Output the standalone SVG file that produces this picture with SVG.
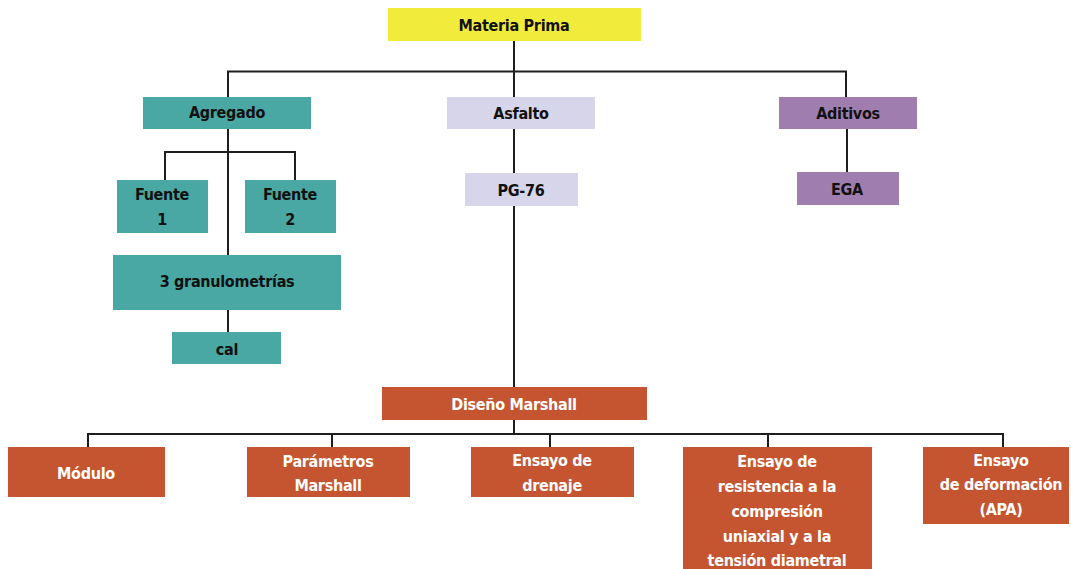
<svg xmlns="http://www.w3.org/2000/svg" width="1071" height="569" viewBox="0 0 1071 569">
<style>
text{font-family:"Liberation Sans Narrow","DejaVu Sans Condensed","Liberation Sans",sans-serif;font-weight:bold;font-size:16px;letter-spacing:-0.3px;text-anchor:middle}
.dk{fill:#111}
.lt{fill:#ffffff}
.yel{fill:#f1ec3b}
.teal{fill:#4aa8a4}
.lav{fill:#d7d5e9}
.pur{fill:#a07daf}
.org{fill:#c45530}
.conn{fill:none;stroke:#1e1e1e;stroke-width:2}
</style>
<rect width="1071" height="569" fill="#ffffff"/>
<g id="connectors" class="conn">
<path d="M514,41 V97"/>
<path d="M228,97 V71.5 H846 V97"/>
<path d="M228,129 V255"/>
<path d="M228,310 V332"/>
<path d="M165,180 V152 H295 V180"/>
<path d="M514,129 V173"/>
<path d="M514,206 V387"/>
<path d="M847,129 V172"/>
<path d="M514,420 V434"/>
<path d="M88,447 V434 H1003 V447"/>
<path d="M332,434 V447"/>
<path d="M550,434 V447"/>
<path d="M768,434 V447"/>
</g>
<g id="materia-prima"><rect class="yel" x="388" y="8" width="253" height="33"/><text class="dk" x="514" y="31">Materia Prima</text></g>
<g id="agregado"><rect class="teal" x="143" y="97" width="168" height="32"/><text class="dk" x="227" y="118">Agregado</text></g>
<g id="asfalto"><rect class="lav" x="447" y="97" width="148" height="32"/><text class="dk" x="521" y="119">Asfalto</text></g>
<g id="aditivos"><rect class="pur" x="779" y="97" width="138" height="32"/><text class="dk" x="848" y="119">Aditivos</text></g>
<g id="fuente1"><rect class="teal" x="117" y="180" width="91" height="53"/><text class="dk" x="162" y="200">Fuente</text><text class="dk" x="162" y="225">1</text></g>
<g id="fuente2"><rect class="teal" x="245" y="180" width="91" height="53"/><text class="dk" x="290" y="200">Fuente</text><text class="dk" x="290" y="225">2</text></g>
<g id="pg76"><rect class="lav" x="465" y="173" width="113" height="33"/><text class="dk" x="521" y="196">PG-76</text></g>
<g id="ega"><rect class="pur" x="797" y="172" width="102" height="33"/><text class="dk" x="847" y="195">EGA</text></g>
<g id="granulometrias"><rect class="teal" x="113" y="255" width="228" height="55"/><text class="dk" x="227" y="287">3 granulometrías</text></g>
<g id="cal"><rect class="teal" x="172" y="332" width="109" height="32"/><text class="dk" x="227" y="355">cal</text></g>
<g id="diseno-marshall"><rect class="org" x="382" y="387" width="265" height="33"/><text class="lt" x="514" y="410">Diseño Marshall</text></g>
<g id="modulo"><rect class="org" x="8" y="447" width="157" height="50"/><text class="lt" x="86" y="479">Módulo</text></g>
<g id="parametros"><rect class="org" x="247" y="447" width="163" height="50"/><text class="lt" x="328" y="467">Parámetros</text><text class="lt" x="328" y="491">Marshall</text></g>
<g id="drenaje"><rect class="org" x="471" y="447" width="163" height="50"/><text class="lt" x="552" y="466">Ensayo de</text><text class="lt" x="552" y="491">drenaje</text></g>
<g id="resistencia"><rect class="org" x="683" y="447" width="189" height="122"/><text class="lt" x="777" y="467">Ensayo de</text><text class="lt" x="777" y="492">resistencia a la</text><text class="lt" x="777" y="517">compresión</text><text class="lt" x="777" y="542">uniaxial y a la</text><text class="lt" x="777" y="566">tensión diametral</text></g>
<g id="deformacion"><rect class="org" x="923" y="447" width="146" height="77"/><text class="lt" x="1001" y="466">Ensayo</text><text class="lt" x="1001" y="490">de deformación</text><text class="lt" x="1001" y="515">(APA)</text></g>
</svg>
